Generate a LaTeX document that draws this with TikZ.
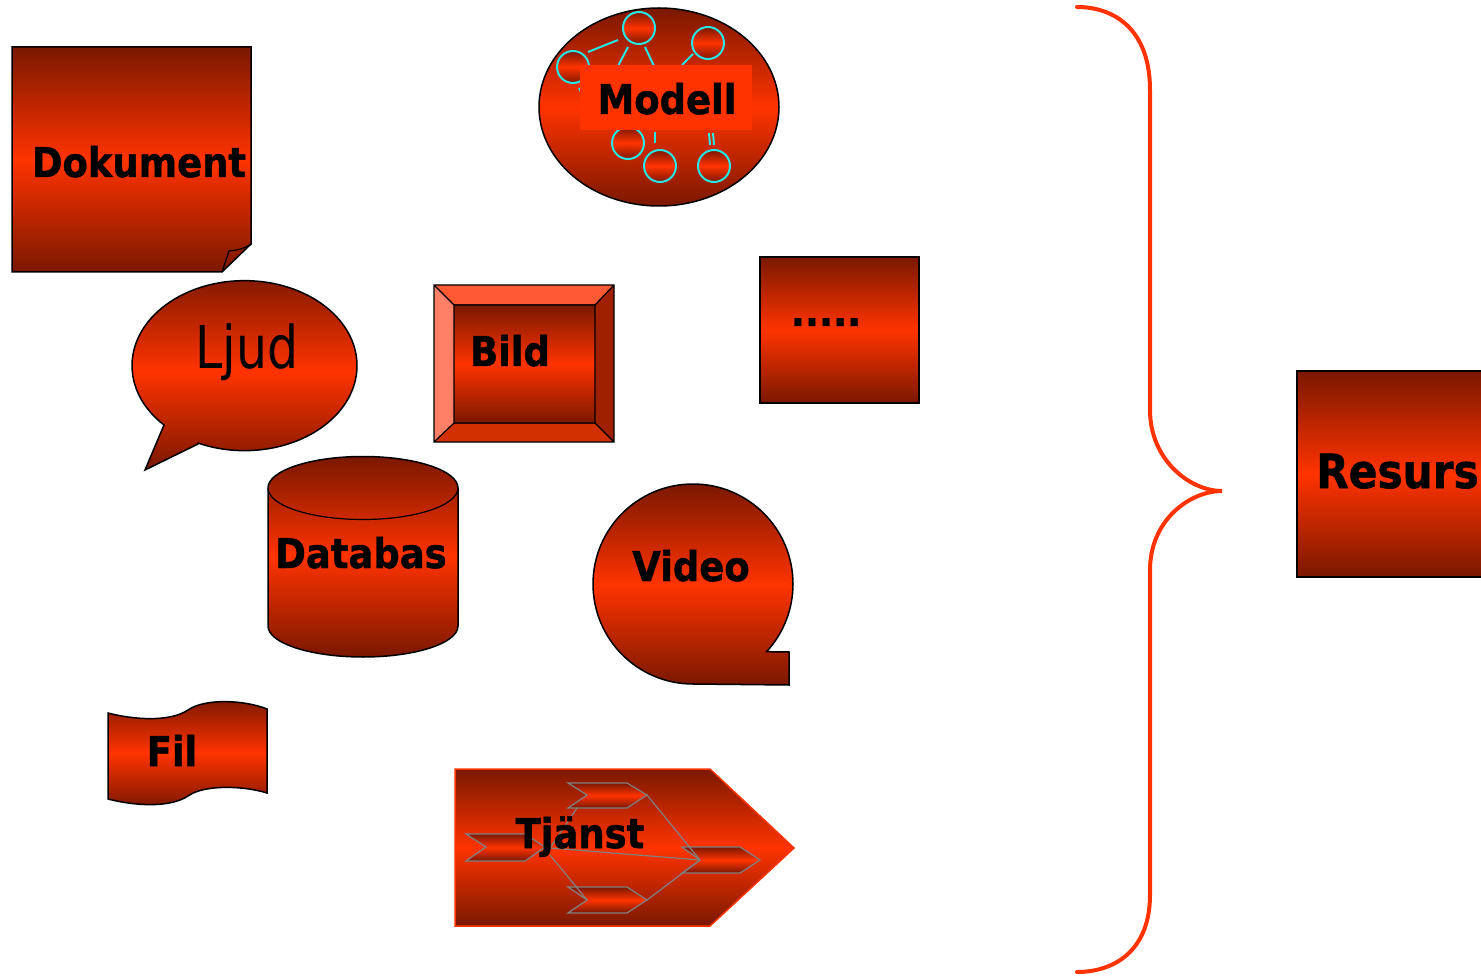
\documentclass[tikz,border=0pt]{standalone}
\usepackage{fontspec}
\usepackage{graphicx}
\newfontfamily\dv{DejaVu Sans}
\newfontfamily\dvb{DejaVu Sans}[FakeBold=1.2]
\definecolor{dk}{RGB}{122,24,0}
\definecolor{br}{RGB}{255,51,0}
\definecolor{cy}{RGB}{40,230,230}
\definecolor{gr}{RGB}{128,128,128}
\newcommand\lblfont{\dvb\bfseries\fontsize{41}{49}\selectfont}
\newcommand\sq[1]{\scalebox{0.9}[1]{#1}}
\tikzset{
  grad/.style={top color=dk, bottom color=dk, middle color=br},
  outl/.style={draw=black, line width=1.5pt},
  lbl/.style={font=\lblfont, inner sep=0pt, anchor=base},
  chev/.style={grad, draw=gr, line width=1.2pt},
  glin/.style={draw=gr, line width=1.2pt},
  clin/.style={draw=cy, line width=2pt},
}
\begin{document}
\begin{tikzpicture}[x=1pt, y=-1pt]
\useasboundingbox (0,0) rectangle (1481,976);

% Dokument
\shadedraw[grad, outl, line join=miter] (12,47) -- (251,47) -- (251,244) -- (222,272) -- (12,272) -- cycle;
\draw[black, line width=1.2pt] (222,272) -- (229,251) .. controls (236,250) and (242,250) .. (251,244);
\node[lbl] (dok) at (139,177) {\sq{Dokument}};

% Modell
\shadedraw[grad, outl] (659,107) ellipse [x radius=120, y radius=99];
\draw[clin] (588,52) -- (618,40);
\draw[clin] (628,47) -- (618,66);
\draw[clin] (645,47) -- (654,66);
\draw[clin] (693,54) -- (682,65);
\draw[clin] (579,88) -- (582,94);
\draw[clin] (655,132) -- (655,143);
\draw[clin] (709,133) -- (710,145);
\draw[clin] (713,133) -- (714,145);
\foreach \cx/\cyy in {639/28, 708/43, 573/67, 628/143, 660/166, 714/166}
  \shadedraw[grad, draw=cy, line width=2pt] (\cx,\cyy) circle [radius=16];
\fill[br] (580,65) rectangle (752,130);
\node[lbl] (mod) at (667,114) {\sq{Modell}};

% Ljud
\shadedraw[grad, outl] (198,444) -- (145,470) -- (164,425)
  arc[start angle=135.7, end angle=474.4, x radius=112.5, y radius=85] -- cycle;
\node[inner sep=0pt, anchor=base, font=\dv\fontsize{59}{70}\selectfont] (ljud) at (247,368) {\scalebox{0.83}[1]{Ljud}};

% Bild
\fill[fill={rgb,255:red,255;green,90;blue,53}] (434,285) -- (614,285) -- (595,305) -- (454,305) -- cycle;
\fill[fill={rgb,255:red,255;green,128;blue,102}] (434,285) -- (454,305) -- (454,423) -- (434,442) -- cycle;
\fill[fill={rgb,255:red,158;green,32;blue,0}] (614,285) -- (614,442) -- (595,423) -- (595,305) -- cycle;
\fill[fill={rgb,255:red,210;green,48;blue,0}] (434,442) -- (454,423) -- (595,423) -- (614,442) -- cycle;
\shade[grad] (454,305) rectangle (595,423);
\draw[black, line width=1.2pt] (434,285) rectangle (614,442) (454,305) rectangle (595,423)
  (434,285) -- (454,305) (614,285) -- (595,305) (434,442) -- (454,423) (614,442) -- (595,423);
\node[lbl] (bild) at (510,366) {\sq{Bild}};

% .....
\shadedraw[grad, outl] (760,257) rectangle (919,403);
\node[lbl] (dots) at (826,326) {\sq{.....}};

% Databas
\shadedraw[grad, outl] (268,488) -- (268,626) arc[start angle=180, end angle=0, x radius=95, y radius=31]
  -- (458,488) arc[start angle=0, end angle=-180, x radius=95, y radius=31.5] -- cycle;
\draw[black, line width=1.2pt] (268,488) arc[start angle=180, end angle=0, x radius=95, y radius=31.5];
\node[lbl] (db) at (361,568) {\sq{Databas}};

% Video
\shadedraw[grad, outl] (693,684) arc[start angle=90, end angle=402.6, radius=100]
  -- (789,652) -- (789,685) -- cycle;
\node[lbl] (video) at (691,581) {\sq{Video}};

% Fil
\shadedraw[grad, outl] (108,713) .. controls (135,720) and (170,722) .. (188,710)
  .. controls (205,698) and (245,700) .. (267,709)
  -- (267,793) .. controls (245,786) and (205,784) .. (188,796)
  .. controls (170,808) and (135,806) .. (108,799) -- cycle;
\node[lbl] (fil) at (172,766) {\sq{Fil}};

% Tjanst
\shadedraw[grad, draw=br, line width=1.5pt] (455,769) -- (710,769) -- (794,848) -- (710,926) -- (455,926) -- cycle;
\shadedraw[chev] (568,783) -- (627,783) -- (647,795) -- (627,808) -- (568,808) -- (587,795) -- cycle;
\shadedraw[chev] (466,834) -- (525,834) -- (545,847) -- (525,861) -- (466,861) -- (486,847) -- cycle;
\shadedraw[chev] (568,887) -- (627,887) -- (647,900) -- (627,913) -- (568,913) -- (587,900) -- cycle;
\shadedraw[chev] (682,847) -- (740,847) -- (760,860) -- (740,873) -- (682,873) -- (700,860) -- cycle;
\draw[glin] (550,848) -- (577,808);
\draw[glin] (647,795) -- (700,860);
\draw[glin] (550,848) -- (700,860);
\draw[glin] (550,855) -- (587,900);
\draw[glin] (647,900) -- (700,860);
\node[lbl] (tj) at (580,848) {\sq{Tjänst}};

% Brace
\draw[br, line width=4pt, line cap=round] (1077,7) .. controls (1115,7) and (1150,30) .. (1150,90)
  -- (1150,410) .. controls (1150,460) and (1190,491) .. (1222,491)
  .. controls (1190,491) and (1150,520) .. (1150,570)
  -- (1150,895) .. controls (1150,950) and (1115,972) .. (1077,972);

% Resurs
\shadedraw[grad, outl] (1297,371) rectangle (1500,577);
\node[font=\dvb\bfseries\fontsize{47}{56}\selectfont, inner sep=0pt, anchor=base west] (res) at (1316,488) {\sq{Resurs}};
\end{tikzpicture}
\end{document}
